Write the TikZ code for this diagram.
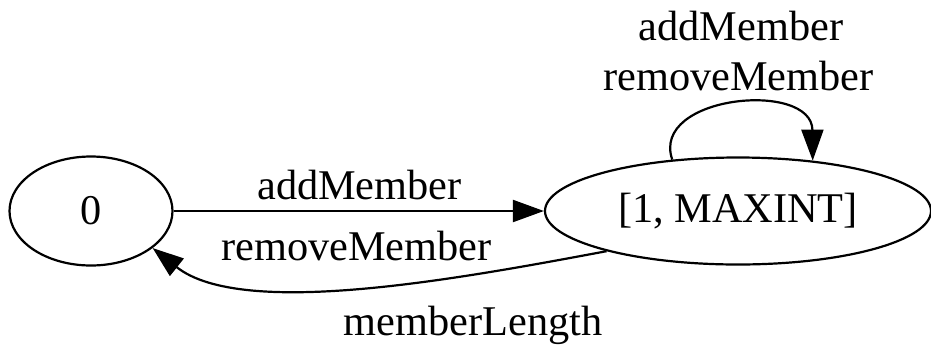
\documentclass[tikz,border=0pt]{standalone}
\usepackage{fontspec}
\setmainfont{Liberation Serif}
\usetikzlibrary{shapes.geometric,arrows.meta}
\tikzset{
  state/.style={draw, ellipse, line width=2.2bp, inner sep=0pt},
  edge/.style={draw, line width=2.2bp, -{Triangle[length=31bp,width=22bp]}},
  lbl/.style={inner sep=0pt, anchor=base},
}
\begin{document}
\begin{tikzpicture}[x=1bp,y=-1bp,font=\fontsize{42.5}{50}\selectfont]
\path[use as bounding box] (0,0) rectangle (931,344);
\node[state, minimum width=163bp, minimum height=109bp] (s0) at (91,211) {0};
\node[state, minimum width=386bp, minimum height=107bp] (s1) at (738,211) {[1, MAXINT]};
\draw[edge] (s0.east) -- (s1.west);
\draw[edge] (s1.197.5) .. controls (458,279) and (242,319) .. (s0.329.5);
\draw[edge] (s1.142.7) .. controls (650,95) and (812,80) .. (s1.34.6);
\node[lbl] (l1) at (359.5,199) {addMember};
\node[lbl] (l2) at (356.5,260) {removeMember};
\node[lbl] (l3) at (473,335) {memberLength};
\node[lbl] (l4) at (741,40) {addMember};
\node[lbl] (l5) at (738.5,90) {removeMember};
\end{tikzpicture}
\end{document}
